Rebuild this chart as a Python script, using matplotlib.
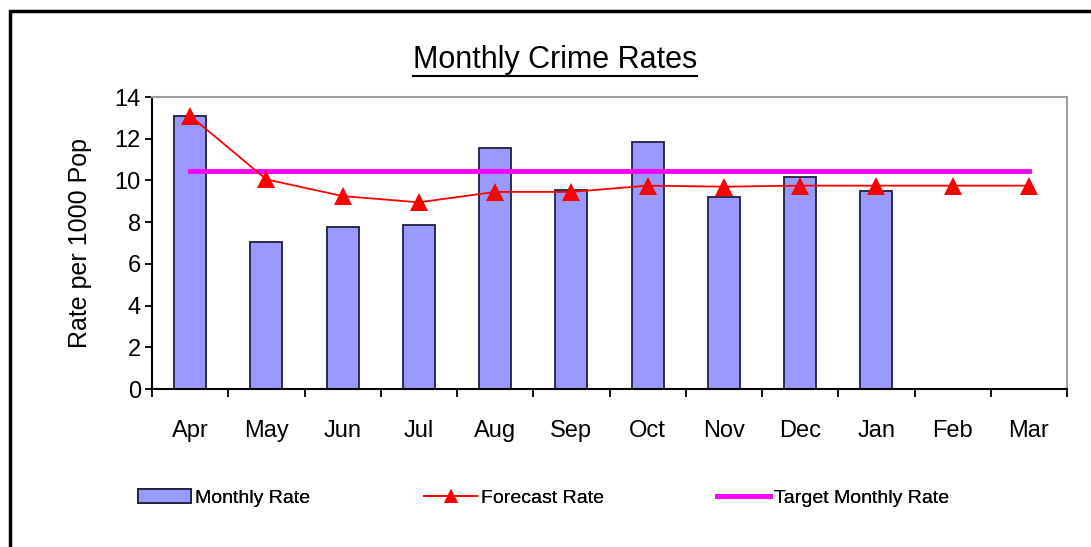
import numpy as np
import matplotlib.pyplot as plt
from matplotlib.patches import Rectangle

plt.rcParams['font.family'] = ['Liberation Sans', 'DejaVu Sans']

months = ['Apr', 'May', 'Jun', 'Jul', 'Aug', 'Sep', 'Oct', 'Nov', 'Dec', 'Jan', 'Feb', 'Mar']
monthly_rate = [13.1, 7.05, 7.75, 7.85, 11.55, 9.55, 11.85, 9.2, 10.15, 9.5]
forecast_rate = [13.1, 10.05, 9.25, 8.95, 9.45, 9.45, 9.75, 9.7, 9.75, 9.75, 9.75, 9.75]
target_rate = [10.45] * 12

fig = plt.figure(figsize=(10.91, 5.47), dpi=100)
ax = fig.add_axes([152 / 1091, 1 - 389 / 547, 915 / 1091, 292 / 547])

x = np.arange(len(months))
bars = ax.bar(x[:len(monthly_rate)], monthly_rate, width=0.42, color='#9999ff',
              edgecolor='#202040', linewidth=1.3, label='Monthly Rate', zorder=2)
fc, = ax.plot(x, forecast_rate, color='red', linewidth=1.3, marker='^', markersize=13,
              markeredgewidth=0, label='Forecast Rate', zorder=4)
tg, = ax.plot(x, target_rate, color='#ff00ff', linewidth=3.5,
              label='Target Monthly Rate', zorder=3)

ax.set_xlim(-0.5, len(months) - 0.5)
ax.set_ylim(0, 14)
ax.set_yticks(range(0, 15, 2))
ax.set_xticks(x)
ax.set_xticklabels(months, fontsize=17)
ax.set_xticks(np.arange(-0.5, len(months)), minor=True)
ax.tick_params(axis='x', which='major', length=0, pad=22)
ax.tick_params(axis='x', which='minor', length=6, width=1.3, direction='out')
ax.tick_params(axis='y', labelsize=17, length=5, width=1.3, pad=3)

for s in ['top', 'right']:
    ax.spines[s].set_color('#a0a0a0')
    ax.spines[s].set_linewidth(1.5)
for s in ['left', 'bottom']:
    ax.spines[s].set_linewidth(1.5)

ax.set_ylabel('Rate per 1000 Pop', fontsize=18, labelpad=16)

fig.text(555 / 1091, 1 - 60 / 547, 'Monthly Crime Rates', fontsize=22,
         ha='center', va='center')
fig.add_artist(plt.Line2D([413 / 1091, 697 / 1091], [1 - 76 / 547, 1 - 76 / 547],
                          color='black', linewidth=1.5))

# one legend per entry so each sits where the reference has it
for handle, left in [(bars, 138), (fc, 424), (tg, 717)]:
    leg = fig.legend(handles=[handle], loc='center left',
                     bbox_to_anchor=(left / 1091, 1 - 498 / 547),
                     frameon=False, fontsize=14, handlelength=2.75, handletextpad=0.2,
                     borderaxespad=0, borderpad=0, markerscale=0.8)
    fig.add_artist(leg)

fig.add_artist(Rectangle((10 / 1091, -0.1), 1.2, 1 - 11 / 547 + 0.1,
                         transform=fig.transFigure, fill=False,
                         edgecolor='black', linewidth=2.5))

fig.savefig('out.png', dpi=100)
